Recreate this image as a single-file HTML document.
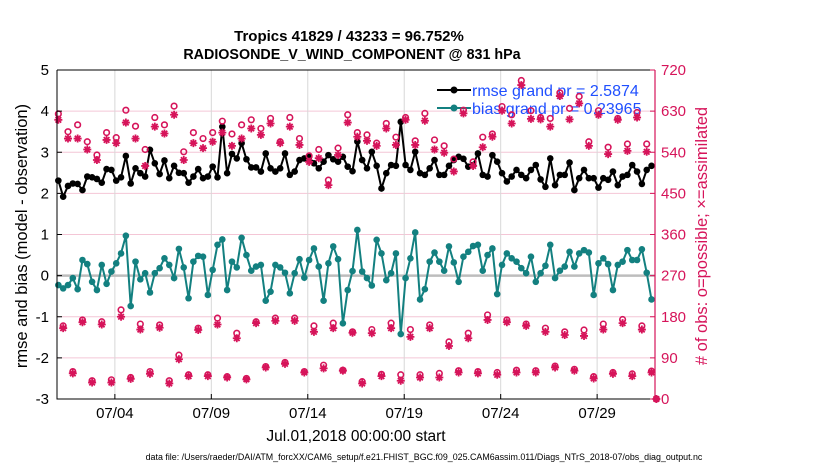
<!DOCTYPE html>
<html><head><meta charset="utf-8"><style>
html,body{margin:0;padding:0;background:#fff;}
svg{display:block;font-family:"Liberation Sans",sans-serif;}
</style></head><body>
<svg id="chart" width="830" height="470" viewBox="0 0 830 470" xmlns="http://www.w3.org/2000/svg">
<text x="349" y="41" font-size="15" font-weight="bold" text-anchor="middle">Tropics 41829 / 43233 = 96.752%</text>
<text x="352" y="59" font-size="14.3" font-weight="bold" text-anchor="middle">RADIOSONDE_V_WIND_COMPONENT @ 831 hPa</text>
<g id="grid"></g>
<g id="legend">
<line x1="437" y1="90" x2="471" y2="90" stroke="#000" stroke-width="2"/>
<circle cx="454" cy="90" r="3.5" fill="#000"/>
<text x="472" y="96" font-size="16" fill="#1f4fff">rmse grand pr = 2.5874</text>
<line x1="437" y1="108" x2="471" y2="108" stroke="#138080" stroke-width="2"/>
<circle cx="454" cy="108" r="3.5" fill="#138080"/>
<text x="472" y="114" font-size="16" fill="#1f4fff">bias grand pr = 0.23965</text>
</g>
<g id="series"></g>
<g id="axes"></g>
<text transform="translate(27,236) rotate(-90)" font-size="16.5" text-anchor="middle">rmse and bias (model - observation)</text>
<text transform="translate(707,236) rotate(-90)" font-size="16.5" text-anchor="middle" fill="#d6145a"># of obs: o=possible; ×=assimilated</text>
<text x="356" y="441" font-size="15.5" text-anchor="middle">Jul.01,2018 00:00:00 start</text>
<text x="424" y="460" font-size="8.9" text-anchor="middle">data file: /Users/raeder/DAI/ATM_forcXX/CAM6_setup/f.e21.FHIST_BGC.f09_025.CAM6assim.011/Diags_NTrS_2018-07/obs_diag_output.nc</text>
</svg>
<script>
const rmse=[2.31,1.92,2.18,2.24,2.23,2.08,2.41,2.39,2.35,2.26,2.59,2.57,2.31,2.39,2.91,2.24,2.61,2.49,2.41,3.06,2.73,2.47,2.80,2.37,2.67,2.50,2.49,2.26,2.41,2.59,2.37,2.41,2.65,2.39,3.62,2.49,2.96,2.85,3.22,2.83,2.63,2.63,2.53,2.97,2.61,2.53,2.61,2.97,2.45,2.53,2.81,2.85,2.89,2.73,2.61,2.77,2.93,2.83,2.77,2.89,2.65,2.54,3.26,
2.81,2.61,3.01,2.67,2.12,2.49,2.69,2.67,3.74,2.69,2.57,3.01,2.49,2.45,2.61,2.81,2.45,2.45,2.67,2.81,2.89,2.84,2.65,2.69,2.97,2.45,2.41,2.93,2.77,2.49,2.29,2.41,2.57,2.45,2.37,2.57,2.69,2.34,2.16,2.85,2.20,2.45,2.45,2.75,2.08,2.37,2.57,2.37,2.37,2.14,2.37,2.33,2.53,2.20,2.41,2.45,2.69,2.53,2.23,2.57,2.67];
const bias=[-0.23,-0.31,-0.23,-0.06,-0.33,0.38,0.28,-0.15,-0.35,0.26,-0.20,0.10,0.30,0.54,0.97,-0.74,0.34,-0.09,0.06,-0.41,0.06,0.18,0.42,0.26,-0.06,0.65,0.20,-0.55,0.34,0.48,0.46,-0.47,0.14,0.75,0.88,-0.35,0.34,0.20,0.92,0.50,0.12,0.22,0.26,-0.61,-0.39,0.26,0.20,0.07,-0.43,0.06,0.40,-0.05,0.38,0.66,0.22,-0.61,0.30,0.71,0.40,-1.16,-0.35,0.11,1.11,
0.10,-0.06,-0.24,0.87,0.54,-0.11,0.06,0.54,-1.42,-0.06,0.42,1.05,-0.58,-0.33,0.34,0.56,0.34,0.12,0.71,0.32,-0.15,0.46,0.58,0.72,0.75,0.12,0.50,0.66,-0.45,0.26,0.54,0.42,0.34,0.18,0.06,0.46,-0.15,0.06,0.24,0.75,-0.06,0.12,0.22,0.58,0.22,0.54,0.62,0.56,-0.47,0.30,0.42,0.28,-0.35,0.26,0.34,0.62,0.38,0.38,0.64,0.07,-0.58];
const possible=[624,160,585,60,600,173,563,40,534,169,583,42,572,195,632,47,597,164,546,60,616,162,600,40,641,96,541,53,583,155,570,53,583,177,608,49,580,144,600,45,611,169,592,71,614,177,563,80,616,177,570,60,532,160,546,74,479,166,549,63,622,147,583,38,
578,152,560,54,603,166,573,53,616,152,565,53,625,162,567,56,554,125,525,62,632,144,519,60,573,184,580,58,640,173,622,63,697,164,631,62,616,155,614,72,670,147,636,65,662,151,563,49,631,164,551,58,614,174,558,55,627,160,558,61,0];
const assimilated=[611,155,570,56,570,168,546,36,523,163,567,36,560,180,605,44,570,152,510,55,596,156,581,34,622,87,523,50,560,151,549,50,563,163,583,47,554,133,570,43,592,166,578,69,603,171,560,77,596,171,556,58,519,147,527,67,468,155,534,62,605,145,574,34,
565,144,554,50,592,155,556,40,611,136,556,47,609,155,546,47,539,116,498,58,625,133,510,56,551,173,574,53,631,168,603,58,687,160,613,58,612,147,596,69,663,140,612,62,647,138,554,45,622,152,536,55,611,166,543,50,616,152,541,58,0];
const xTickLabels=["07/04","07/09","07/14","07/19","07/24","07/29"];
const xTickDays=[3,8,13,18,23,28];
const yTicksLeft=[-3,-2,-1,0,1,2,3,4,5];
const yTicksRight=[0,90,180,270,360,450,540,630,720];

const NS="http://www.w3.org/2000/svg";
const L=57,R=655,T=70,B=399;
const xS=d=>L+(d-0)/(31-0)*(R-L);
const yS=v=>B-(v+3)/8*(B-T);
const yC=c=>B-c/720*(B-T);
const tOf=i=>0.07+i*0.25;
function mk(tag,attrs,parent){const e=document.createElementNS(NS,tag);for(const k in attrs)e.setAttribute(k,attrs[k]);parent.appendChild(e);return e;}
const grid=document.getElementById('grid'),series=document.getElementById('series'),axes=document.getElementById('axes');

yTicksLeft.forEach(v=>{if(v!==0&&v!==-3&&v!==5){const g=mk('line',{x1:L,x2:R,y1:yS(v),y2:yS(v),stroke:'#f4c6d6','stroke-width':1},grid);

}});
xTickDays.forEach(d=>{const g=mk('line',{x1:xS(d),x2:xS(d),y1:T,y2:B,stroke:'#d8d8d8','stroke-width':1},grid);

});
const zl=mk('line',{x1:L,x2:R,y1:yS(0),y2:yS(0),stroke:'#bdbdbd','stroke-width':2.5},grid);



function lineSeries(vals,color,name){
  const pts=vals.map((v,i)=>xS(tOf(i)).toFixed(1)+','+yS(v).toFixed(1)).join(' ');
  const pl=mk('polyline',{points:pts,fill:'none',stroke:color,'stroke-width':2},series);
  
  
  vals.forEach((v,i)=>{const c=mk('circle',{cx:xS(tOf(i)),cy:yS(v),r:3.3,fill:color},series);
  
  });
}
lineSeries(rmse,'#000','rmse');
lineSeries(bias,'#138080','bias');

const mag='#d6145a';
possible.forEach((c,i)=>{const o=mk('circle',{cx:xS(tOf(i)),cy:yC(c),r:2.8,fill:'none',stroke:mag,'stroke-width':1.6},series);

});
assimilated.forEach((c,i)=>{const x=xS(tOf(i)),y=yC(c),s=4;
  const p=mk('path',{d:`M${x-s},${y}H${x+s}M${x},${y-s}V${y+s}M${x-s*0.7},${y-s*0.7}L${x+s*0.7},${y+s*0.7}M${x-s*0.7},${y+s*0.7}L${x+s*0.7},${y-s*0.7}`,stroke:mag,'stroke-width':1.8,fill:'none'},series);
  
  });

const fr=mk('path',{d:`M${L},${T}V${B}H${R}M${L},${T}H${R}`,stroke:'#000','stroke-width':1,fill:'none'},axes);


const ra=mk('line',{x1:R,x2:R,y1:T,y2:B,stroke:mag,'stroke-width':1.2},axes);


yTicksLeft.forEach(v=>{mk('line',{x1:L,x2:L+5,y1:yS(v),y2:yS(v),stroke:'#000'},axes);
  const t=mk('text',{x:L-8,y:yS(v)+5,'font-size':15,'text-anchor':'end'},axes);t.textContent=v;
  
  });
yTicksRight.forEach(v=>{mk('line',{x1:R-5,x2:R,y1:yC(v),y2:yC(v),stroke:mag},axes);
  const t=mk('text',{x:R+6,y:yC(v)+5,'font-size':15,fill:mag},axes);t.textContent=v;
  
  });
xTickDays.forEach((d,i)=>{mk('line',{x1:xS(d),x2:xS(d),y1:B,y2:B-5,stroke:'#000'},axes);
  const t=mk('text',{x:xS(d),y:B+19,'font-size':15,'text-anchor':'middle'},axes);t.textContent=xTickLabels[i];
  
  });
</script>
</body></html>
